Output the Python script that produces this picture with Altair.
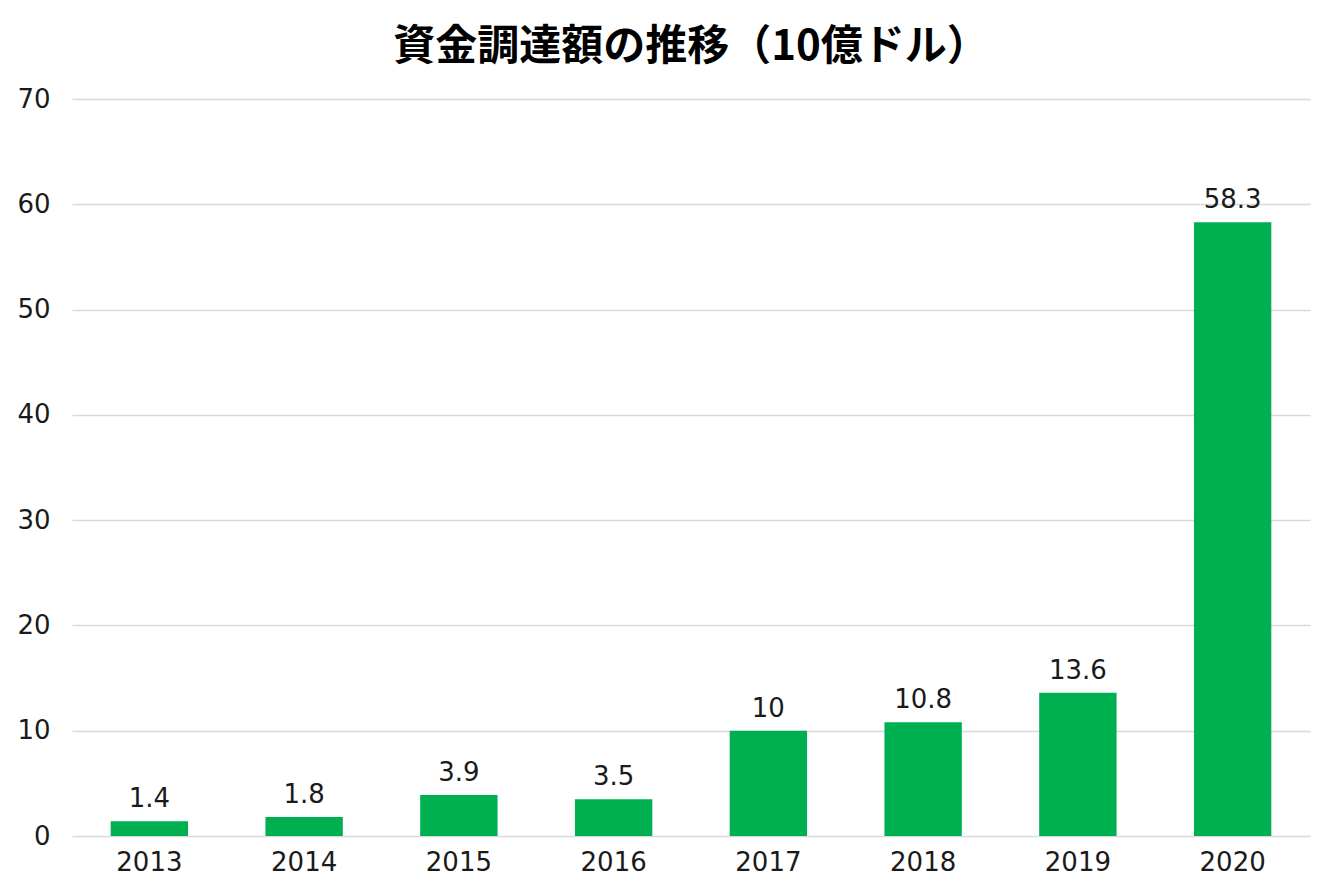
import altair as alt
import pandas as pd

years = ["2013", "2014", "2015", "2016", "2017", "2018", "2019", "2020"]
values = [1.4, 1.8, 3.9, 3.5, 10, 10.8, 13.6, 58.3]
labels = ["1.4", "1.8", "3.9", "3.5", "10", "10.8", "13.6", "58.3"]

df = pd.DataFrame({"year": years, "value": values, "label": labels})

FONT = "Noto Sans CJK JP"
NUMFONT = "DejaVu Sans"

base = alt.Chart(df).encode(
    x=alt.X("year:N", sort=years, title=None,
            scale=alt.Scale(paddingInner=0.5, paddingOuter=0.25),
            axis=alt.Axis(labelAngle=0, ticks=False, domain=False, grid=False, labelFontSize=26,
                          labelFont=NUMFONT, labelColor="#1a1a1a", labelPadding=13)),
    y=alt.Y("value:Q", title=None,
            scale=alt.Scale(domain=[0, 70], nice=False),
            axis=alt.Axis(values=[0, 10, 20, 30, 40, 50, 60, 70], ticks=False, domain=False,
                          labelFontSize=26, labelFont=NUMFONT, labelColor="#1a1a1a",
                          labelPadding=22, gridColor="#d9d9d9", gridWidth=1.5)),
)

bars = base.mark_bar(color="#00B050")
text = base.mark_text(baseline="alphabetic", dy=-14, fontSize=26, font=NUMFONT, color="#1a1a1a").encode(
    text="label:N")

chart = (bars + text).properties(
    width=1238, height=737,
    background="white",
    autosize=alt.AutoSizeParams(type="none"),
    padding={"left": 64, "top": 91, "right": 16, "bottom": 45},
    title=alt.TitleParams("資金調達額の推移（10億ドル）", font=FONT, fontSize=42, fontWeight="bold",
                          color="#000000", anchor="middle", offset=17),
).configure_view(strokeWidth=0, stroke="transparent")

chart.save("out.html", embed_options={"renderer": "svg", "actions": False})
